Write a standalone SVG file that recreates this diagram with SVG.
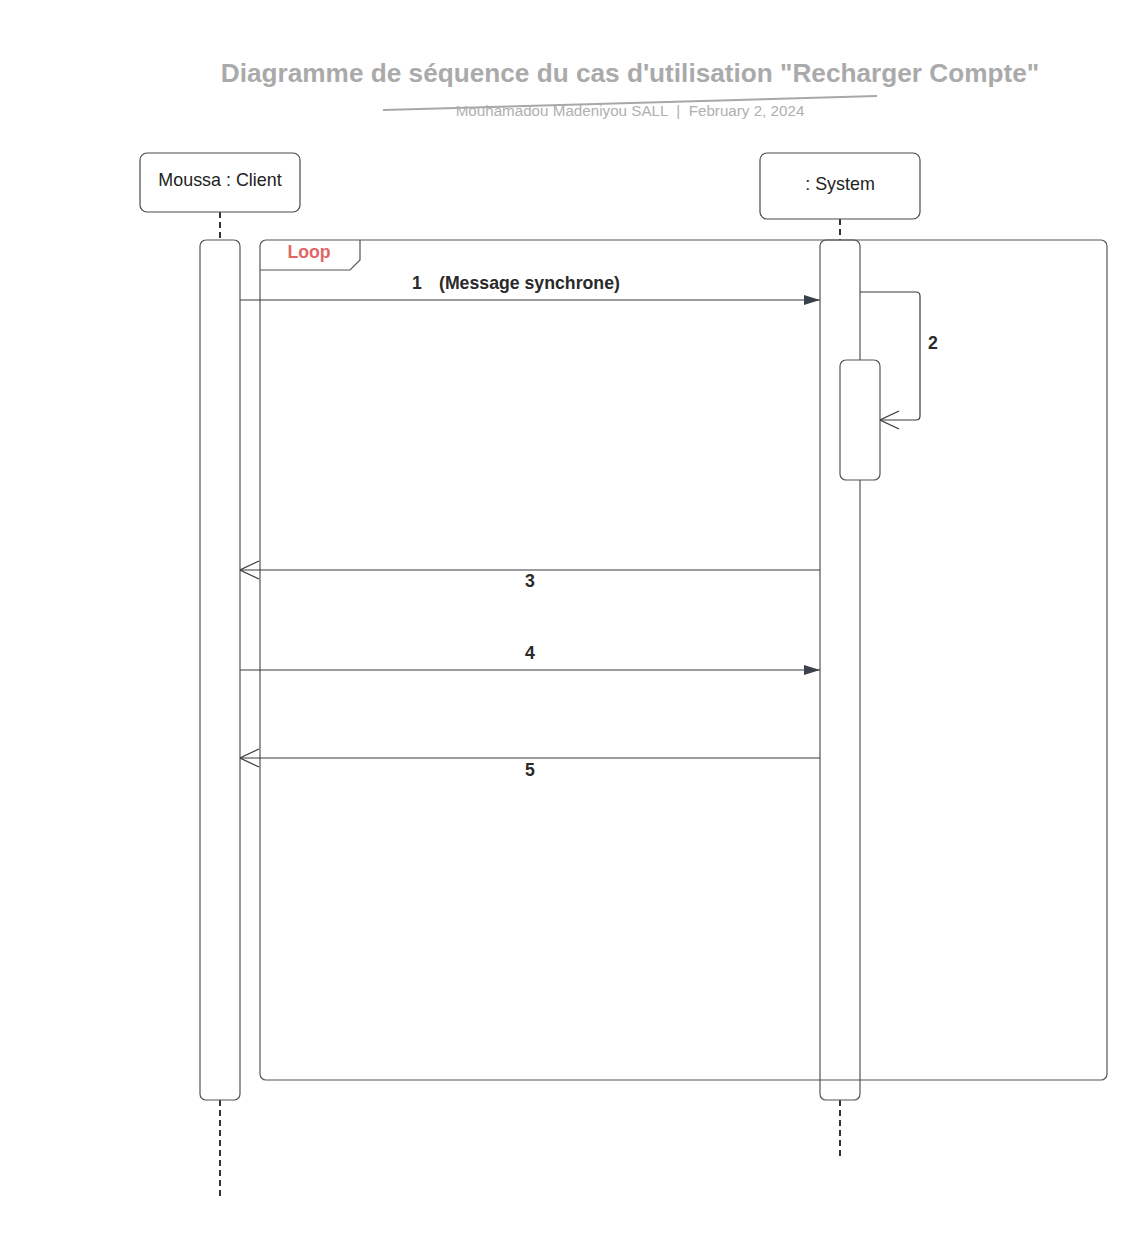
<svg xmlns="http://www.w3.org/2000/svg" width="1147" height="1240" viewBox="0 0 1147 1240">
<style>
  text { font-family: "Liberation Sans", Arial, sans-serif; }
  .box { fill: #ffffff; stroke: #4a4a4a; stroke-width: 1.2; }
  .act { fill: none; stroke: #555555; stroke-width: 1.2; }
  .frame { fill: none; stroke: #555555; stroke-width: 1.2; }
  .life { stroke: #333333; stroke-width: 2; stroke-dasharray: 6 4; fill: none; }
  .msg { stroke: #3a3a3a; stroke-width: 1.2; fill: none; }
  .name { font-size: 17.9px; fill: #222222; text-anchor: middle; }
  .lbl { font-size: 17.7px; font-weight: bold; fill: #2a2a2a; }
</style>
<defs>
  <marker id="filled" viewBox="0 0 16 10" refX="16" refY="5" markerWidth="16" markerHeight="10" markerUnits="userSpaceOnUse" orient="auto">
    <path d="M0,0 L16,5 L0,10 Z" fill="#3a414a"/>
  </marker>
  <marker id="open" viewBox="0 0 20 20" refX="20" refY="10" markerWidth="20" markerHeight="20" markerUnits="userSpaceOnUse" orient="auto">
    <path d="M1,1 L20,10 L1,19" fill="none" stroke="#3a3a3a" stroke-width="1.2"/>
  </marker>
</defs>
<rect width="1147" height="1240" fill="#ffffff"/>

<g id="title">
  <text x="630" y="82" text-anchor="middle" font-size="26.2" font-weight="bold" fill="#aaaaaa">Diagramme de séquence du cas d'utilisation "Recharger Compte"</text>
  <line x1="383" y1="110" x2="877" y2="96" stroke="#a8a8a8" stroke-width="2"/>
  <text x="630" y="116" text-anchor="middle" font-size="15.2" fill="#b0b0b0" xml:space="preserve">Mouhamadou Madeniyou SALL  |  February 2, 2024</text>
</g>

<g id="lifelines">
  <line class="life" x1="220" y1="212" x2="220" y2="240"/>
  <line class="life" x1="220" y1="1100" x2="220" y2="1200"/>
  <line class="life" x1="840" y1="219" x2="840" y2="240"/>
  <line class="life" x1="840" y1="1100" x2="840" y2="1160"/>
</g>

<g id="client">
  <rect class="box" x="140" y="153" width="160" height="59" rx="7"/>
  <text class="name" x="220" y="186">Moussa : Client</text>
</g>
<g id="system">
  <rect class="box" x="760" y="153" width="160" height="66" rx="7"/>
  <text class="name" x="840" y="190">: System</text>
</g>

<g id="loop-frame">
  <rect class="frame" x="260" y="240" width="847" height="840" rx="6"/>
  <path class="frame" d="M260,270 L350,270 L360,260 L360,240"/>
  <text x="309" y="258" text-anchor="middle" font-size="17.7" font-weight="bold" fill="#e06666">Loop</text>
</g>

<g id="client-activation">
  <rect class="act" x="200" y="240" width="40" height="860" rx="6"/>
</g>
<g id="system-activation">
  <rect class="act" x="820" y="240" width="40" height="860" rx="6"/>
</g>
<g id="system-nested-activation">
  <rect class="box" x="840" y="360" width="40" height="120" rx="6" style="stroke:#555555"/>
</g>

<g id="connectors">
  <line class="msg" x1="240" y1="300" x2="820" y2="300" marker-end="url(#filled)"/>
  <path class="msg" d="M860,292 L916,292 Q920,292 920,296 L920,416 Q920,420 916,420 L880,420" marker-end="url(#open)"/>
  <line class="msg" x1="820" y1="570" x2="240" y2="570" marker-end="url(#open)"/>
  <line class="msg" x1="240" y1="670" x2="820" y2="670" marker-end="url(#filled)"/>
  <line class="msg" x1="820" y1="758" x2="240" y2="758" marker-end="url(#open)"/>
</g>

<g id="labels">
  <text class="lbl" x="412" y="289">1</text>
  <text class="lbl" x="439" y="289">(Message synchrone)</text>
  <text class="lbl" x="928" y="349">2</text>
  <text class="lbl" x="530" y="587" text-anchor="middle">3</text>
  <text class="lbl" x="530" y="659" text-anchor="middle">4</text>
  <text class="lbl" x="530" y="776" text-anchor="middle">5</text>
</g>
</svg>
